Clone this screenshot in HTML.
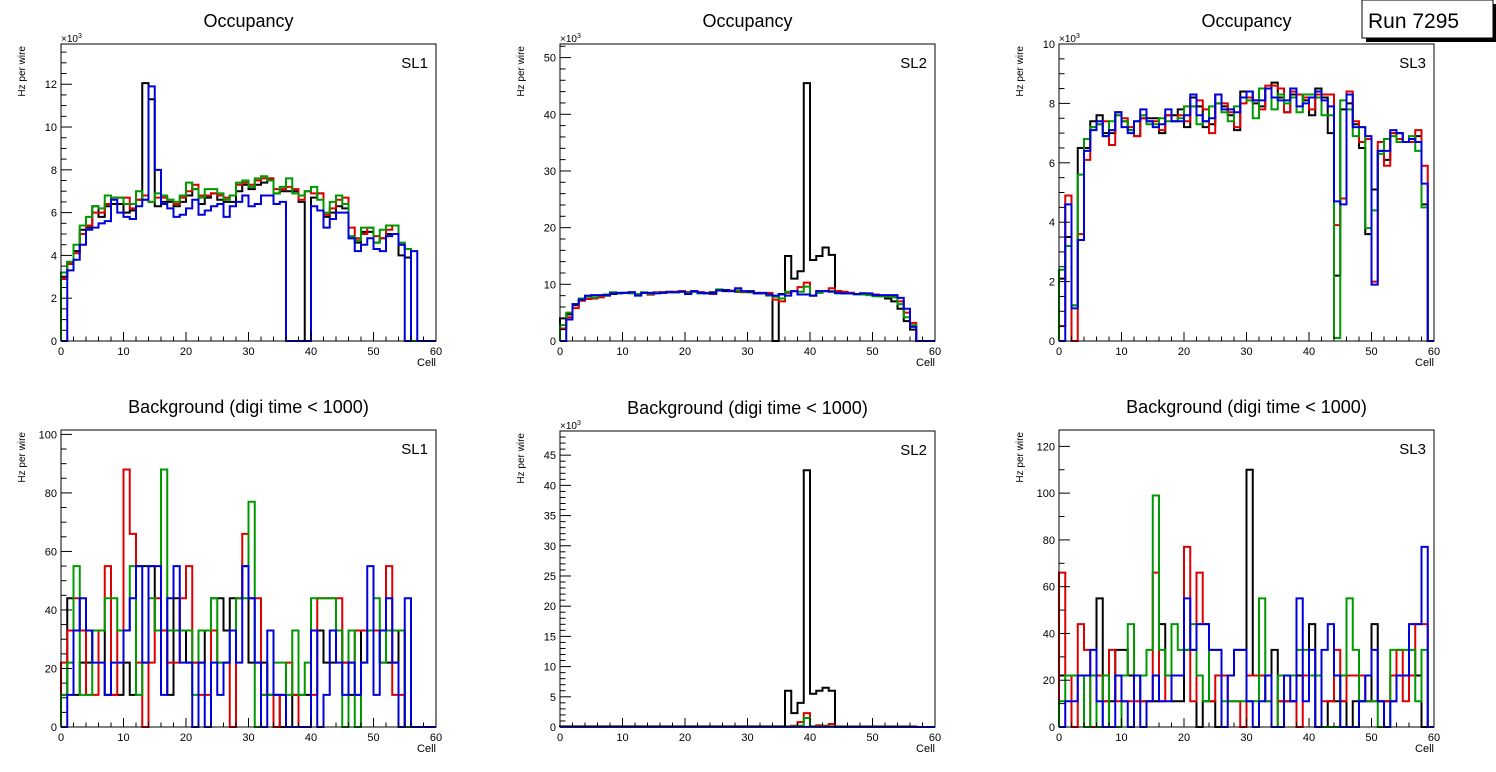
<!DOCTYPE html>
<html><head><meta charset="utf-8"><style>
html,body{margin:0;padding:0;background:#fff;}
svg{display:block;font-family:"Liberation Sans",sans-serif;}
</style></head><body>
<svg id="c" width="1496" height="772" viewBox="0 0 1496 772">
<g>
<rect x="1366" y="4" width="130" height="38" fill="#000"/>
<rect x="1362" y="0" width="131" height="38" fill="#fff" stroke="#000" stroke-width="1"/>
<text x="1368" y="28" font-size="21" fill="#000">Run 7295</text>
</g>
</svg>
<script>
// ---------- data (bin values, 60 cells each) ----------
var cells = [0,10,20,30,40,50,60];
var seriesColors = ["#000000","#dd0000","#009900","#0000dd"];
// SL1 occupancy (x10^3 Hz per wire)
var occSL1Black = [3.0,3.7,4.2,5.2,5.3,6.3,5.8,6.3,6.4,6.4,6.0,6.1,6.6,12.05,11.3,6.3,6.5,6.5,6.3,6.5,6.8,7.1,6.4,6.7,6.9,6.6,6.5,6.5,7.0,7.3,7.1,7.3,7.4,7.6,6.9,7.0,7.0,7.0,6.5,0,6.7,6.9,5.8,6.0,6.3,6.2,4.8,4.6,5.1,5.1,4.6,4.8,5.0,5.0,4.0,3.9,0,0,0,0];
var occSL1Red = [2.9,3.6,4.1,5.0,5.4,6.0,6.0,6.4,6.7,6.7,6.7,6.2,6.6,6.8,6.5,6.7,6.7,6.6,6.4,6.7,7.0,7.3,6.8,6.8,6.9,6.8,6.7,6.8,7.3,7.4,7.3,7.5,7.6,7.6,7.1,7.1,7.2,7.1,6.6,7.0,6.9,6.9,5.9,6.2,6.6,6.7,5.3,4.8,5.0,5.3,4.9,4.8,5.2,5.4,4.5,4.3,0,0,0,0];
var occSL1Green = [3.2,3.7,4.5,5.4,5.8,6.3,6.2,6.8,6.7,6.7,6.4,6.4,7.0,6.6,6.5,6.9,6.8,6.6,6.5,6.8,7.4,7.1,6.7,7.1,7.1,6.9,6.6,6.8,7.4,7.5,7.2,7.6,7.7,7.5,6.9,7.2,7.6,6.9,6.8,7.0,7.2,6.6,6.0,6.5,6.8,6.4,4.9,4.7,5.3,5.3,4.6,5.2,5.4,5.4,4.6,4.3,0,0,0,0];
var occSL1Blue = [0,3.3,3.8,4.5,5.2,5.3,5.5,5.6,6.6,6.0,5.8,5.7,6.3,6.6,11.9,8.0,6.4,6.2,5.8,5.9,6.2,6.6,5.9,6.1,6.3,6.4,5.8,6.3,6.5,6.8,6.3,6.4,6.8,6.8,6.4,6.5,0,0,0,0,6.3,6.1,5.3,5.7,6.0,6.0,4.8,4.2,4.5,4.8,4.3,4.2,4.9,5.0,4.5,0,4.2,0,0,0];
// SL2 occupancy
var occSL2Black = [4.0,4.7,6.3,7.2,7.4,7.6,7.8,8.0,8.3,8.4,8.5,8.6,8.3,8.5,8.2,8.5,8.6,8.7,8.6,8.8,8.6,8.7,8.6,8.5,8.6,8.9,8.8,8.9,8.7,8.7,8.8,8.5,8.4,8.3,0,8.3,15.0,11.0,12.3,45.5,14.3,15.0,16.5,15.2,8.8,8.6,8.5,8.3,8.4,8.3,8.0,7.9,7.5,7.0,5.7,3.5,2.0,0,0,0];
var occSL2Red = [2.2,4.2,5.8,7.1,7.4,7.5,7.7,8.1,8.4,8.5,8.5,8.5,8.2,8.5,8.3,8.6,8.6,8.6,8.7,8.8,8.5,8.8,8.6,8.4,8.3,8.9,9.0,8.9,8.8,8.6,8.6,8.4,8.4,8.5,7.3,7.0,8.5,8.8,9.5,10.3,8.0,8.8,8.8,9.3,8.8,8.7,8.5,8.3,8.4,8.3,8.2,8.0,7.8,7.8,7.0,5.0,3.2,0,0,0];
var occSL2Green = [2.8,5.0,6.5,7.5,7.8,7.7,8.0,8.2,8.6,8.4,8.5,8.4,8.3,8.6,8.4,8.5,8.5,8.6,8.6,8.7,8.4,8.7,8.4,8.4,8.4,9.1,9.0,8.8,8.9,8.7,8.6,8.4,8.4,8.0,7.8,7.5,8.7,8.8,8.7,9.6,8.0,8.5,8.8,8.8,8.4,8.4,8.4,8.2,8.2,8.1,7.9,7.9,7.8,7.7,6.5,4.2,2.8,0,0,0];
var occSL2Blue = [0,3.8,6.5,7.3,8.0,8.1,8.1,8.1,8.4,8.5,8.5,8.6,8.0,8.5,8.5,8.4,8.5,8.6,8.6,8.7,8.3,8.8,8.5,8.4,8.4,8.9,9.0,8.8,9.3,8.8,8.7,8.4,8.5,8.2,8.0,8.2,8.0,8.8,8.2,8.2,8.0,8.8,8.8,8.7,8.5,8.4,8.4,8.3,8.4,8.4,8.1,8.1,8.1,8.1,7.6,5.7,2.5,0,0,0];
// SL3 occupancy
var occSL3Black = [2.1,3.5,1.2,6.5,6.5,7.4,7.6,7.0,7.0,7.7,7.4,7.1,6.9,7.5,7.5,7.5,7.0,7.6,7.6,7.8,7.2,8.2,7.9,7.2,7.3,8.3,7.9,7.6,7.1,8.4,8.4,8.0,7.9,8.5,8.7,8.2,7.7,8.3,8.3,8.1,7.6,8.5,8.2,7.0,2.2,7.8,8.0,7.3,6.5,3.6,5.1,6.4,6.1,7.0,7.0,6.7,6.8,6.9,4.6,0];
var occSL3Red = [0.5,4.9,0,3.6,6.1,7.2,7.3,7.4,6.6,7.6,7.5,7.2,6.9,7.5,7.4,7.4,7.1,7.6,7.4,7.6,7.4,7.9,8.1,7.8,7.0,8.0,8.0,7.7,7.2,8.0,8.2,8.1,7.8,8.6,8.6,8.5,7.7,8.4,8.3,8.2,7.8,8.3,8.3,8.3,3.9,4.8,8.4,7.4,6.7,6.8,2.0,6.7,5.9,7.0,6.8,6.7,6.7,7.1,5.9,0];
var occSL3Green = [2.4,3.2,1.2,5.6,6.8,7.2,7.3,6.9,7.4,7.6,7.4,7.1,7.4,7.6,7.3,7.3,7.5,7.4,7.4,7.5,7.9,7.9,7.3,7.4,7.9,8.0,7.7,7.4,7.9,8.2,8.1,7.5,8.5,8.5,7.8,8.3,8.0,8.2,7.7,8.3,8.3,8.2,7.6,7.6,0.1,8.1,7.8,6.9,7.2,3.8,4.4,6.3,6.8,6.9,6.7,6.7,6.9,6.4,4.5,0];
var occSL3Blue = [0,4.6,1.1,3.4,6.4,7.1,7.4,6.9,7.1,7.7,7.2,7.0,7.4,7.8,7.4,7.2,7.3,7.8,7.4,7.4,7.6,8.3,7.6,7.4,7.5,8.3,7.8,7.8,7.7,8.2,8.4,8.1,8.1,8.5,8.2,8.1,8.1,8.5,7.9,8.0,8.2,8.4,8.1,7.9,4.7,4.6,8.3,7.2,7.2,6.9,1.9,6.4,6.4,7.1,7.0,6.7,6.8,6.7,5.3,0];
// SL1 background (Hz per wire)
var bkgSL1Black = [11,44,11,22,22,33,33,11,11,11,22,11,55,55,55,33,33,11,44,33,22,22,22,33,44,44,33,44,44,55,22,22,22,11,11,0,0,11,11,11,33,33,22,22,33,22,11,11,33,33,33,22,22,22,33,0,0,0,0,0];
var bkgSL1Red = [22,33,44,33,11,11,33,55,11,33,88,66,22,0,22,44,33,22,22,44,55,22,11,11,33,22,22,0,44,66,44,44,11,11,0,11,22,11,0,0,11,44,44,44,44,22,22,33,33,33,33,33,55,11,11,0,0,0,0,0];
var bkgSL1Green = [11,22,55,11,11,33,33,44,44,33,33,55,11,22,44,33,88,33,33,33,33,11,33,33,44,22,22,33,44,44,77,0,11,11,22,22,11,33,11,22,44,44,44,44,33,0,33,0,22,33,44,22,33,33,33,0,0,0,0,0];
var bkgSL1Blue = [0,11,33,44,33,22,22,11,22,22,33,44,55,22,55,55,11,44,55,22,22,0,22,0,22,11,22,33,22,55,44,22,0,33,11,11,0,0,0,0,33,0,11,33,22,11,22,11,22,55,11,33,44,22,0,44,0,0,0,0];
// SL2 background (x10^3)
var bkgSL2Black = [0.1,0.1,0.1,0.1,0.1,0.1,0.1,0.1,0.1,0.1,0.1,0.1,0.1,0.1,0.1,0.1,0.1,0.1,0.1,0.1,0.1,0.1,0.1,0.1,0.1,0.1,0.1,0.1,0.1,0.1,0.1,0.1,0.1,0.1,0.1,0.1,6.0,2.3,4.0,42.5,5.5,6.0,6.5,6.0,0.05,0.05,0.05,0.05,0.05,0.05,0.05,0.05,0.05,0.05,0.05,0.05,0.05,0,0,0];
var bkgSL2Red = [0.1,0.1,0.1,0.1,0.1,0.1,0.1,0.1,0.1,0.1,0.1,0.1,0.1,0.1,0.1,0.1,0.1,0.1,0.1,0.1,0.1,0.1,0.1,0.1,0.1,0.1,0.1,0.1,0.1,0.1,0.1,0.1,0.1,0.1,0.1,0.1,0.1,0.2,0.8,2.3,0.1,0.3,0.2,0.5,0.1,0.1,0.1,0.1,0.1,0.1,0.1,0.1,0.1,0.1,0.1,0.1,0.1,0,0,0];
var bkgSL2Green = [0.05,0.05,0.05,0.05,0.05,0.05,0.05,0.05,0.05,0.05,0.05,0.05,0.05,0.05,0.05,0.05,0.05,0.05,0.05,0.05,0.05,0.05,0.05,0.05,0.05,0.05,0.05,0.05,0.05,0.05,0.05,0.05,0.05,0.05,0.05,0.05,0.05,0.1,0.2,1.5,0.1,0.1,0.1,0.1,0.05,0.05,0.05,0.05,0.05,0.05,0.05,0.05,0.05,0.05,0.05,0.05,0.05,0,0,0];
var bkgSL2Blue = [0.03,0.03,0.03,0.03,0.03,0.03,0.03,0.03,0.03,0.03,0.03,0.03,0.03,0.03,0.03,0.03,0.03,0.03,0.03,0.03,0.03,0.03,0.03,0.03,0.03,0.03,0.03,0.03,0.03,0.03,0.03,0.03,0.03,0.03,0.03,0.03,0.03,0.03,0.03,0.03,0.03,0.03,0.03,0.03,0.03,0.03,0.03,0.03,0.03,0.03,0.03,0.03,0.03,0.03,0.03,0.03,0.03,0,0,0];
// SL3 background
var bkgSL3Black = [22,22,22,22,0,0,55,11,11,33,33,22,22,11,11,11,44,22,11,11,33,33,0,11,11,0,22,22,33,33,110,22,22,22,33,11,11,11,22,22,44,0,0,11,11,11,0,11,11,11,44,11,11,11,22,22,22,22,0,0];
var bkgSL3Red = [66,22,0,44,33,0,22,11,33,11,11,11,11,11,11,66,11,22,22,22,77,11,66,44,11,22,22,11,11,0,22,22,22,11,0,11,11,11,0,22,22,22,11,11,33,11,22,22,22,11,11,11,11,22,33,11,22,44,44,0];
var bkgSL3Green = [11,22,22,22,0,22,0,22,0,0,22,44,22,22,33,99,33,22,44,33,33,44,22,11,33,33,11,11,11,11,11,11,55,11,0,22,22,22,33,33,22,22,0,0,0,22,55,33,11,11,11,0,0,33,33,33,33,11,33,0];
var bkgSL3Blue = [0,11,11,22,22,33,11,0,0,22,11,0,22,0,11,22,11,11,22,22,55,33,44,44,33,33,0,22,33,33,11,0,11,22,0,0,22,11,55,11,33,0,33,44,22,0,0,0,11,22,33,11,0,11,22,22,44,44,77,0];

// ---------- layout ----------
var panels = [
 {name:"occupancy-sl1",title:"Occupancy",sl:"SL1",x0:61,x1:436,y0:44,y1:341,ymax:13.88,maj:2,nmin:4,exp:true,data:[occSL1Black,occSL1Red,occSL1Green,occSL1Blue]},
 {name:"occupancy-sl2",title:"Occupancy",sl:"SL2",x0:560,x1:935,y0:44,y1:341,ymax:52.4,maj:10,nmin:5,exp:true,data:[occSL2Black,occSL2Red,occSL2Green,occSL2Blue]},
 {name:"occupancy-sl3",title:"Occupancy",sl:"SL3",x0:1059,x1:1434,y0:44,y1:341,ymax:10.0,maj:2,nmin:4,exp:true,data:[occSL3Black,occSL3Red,occSL3Green,occSL3Blue]},
 {name:"background-sl1",title:"Background (digi time < 1000)",sl:"SL1",x0:61,x1:436,y0:430,y1:727,ymax:101.5,maj:20,nmin:4,exp:false,data:[bkgSL1Black,bkgSL1Red,bkgSL1Green,bkgSL1Blue]},
 {name:"background-sl2",title:"Background (digi time < 1000)",sl:"SL2",x0:560,x1:935,y0:431,y1:727,ymax:49,maj:5,nmin:5,exp:true,data:[bkgSL2Black,bkgSL2Red,bkgSL2Green,bkgSL2Blue]},
 {name:"background-sl3",title:"Background (digi time < 1000)",sl:"SL3",x0:1059,x1:1434,y0:430,y1:727,ymax:127,maj:20,nmin:2,exp:false,data:[bkgSL3Black,bkgSL3Red,bkgSL3Green,bkgSL3Blue]}
];
var seriesNames=["black","red","green","blue"];
var NS="http://www.w3.org/2000/svg";
var svg=document.getElementById("c");
function mk(tag,attrs,parent){var e=document.createElementNS(NS,tag);for(var k in attrs)e.setAttribute(k,attrs[k]);parent.appendChild(e);return e;}

panels.forEach(function(p){
  var g=mk("g",{},svg);
  
  
  function xs(v){return p.x0+(v-0)/60*(p.x1-p.x0);}
  function ys(v){return p.y1-v/p.ymax*(p.y1-p.y0);}
  var cx=(p.x0+p.x1)/2;
  var t=mk("text",{x:cx,y:p.y0-17,"font-size":"18","text-anchor":"middle",fill:"#000"},g);
  t.textContent=p.title;
  
  
  // series
  p.data.forEach(function(arr,si){
    var d="M"+xs(0)+","+ys(0);
    for(var i=0;i<arr.length;i++){var v=Math.min(arr[i],p.ymax);d+=" L"+xs(i)+","+ys(v)+" L"+xs(i+1)+","+ys(v);}
    d+=" L"+xs(60)+","+ys(0);
    var path=mk("path",{d:d,fill:"none",stroke:seriesColors[si],"stroke-width":"2","stroke-linejoin":"miter"},g);
    
    
  });
  // frame
  var fr=mk("rect",{x:p.x0,y:p.y0,width:p.x1-p.x0,height:p.y1-p.y0,fill:"none",stroke:"#000","stroke-width":"1"},g);
  
  
  // x ticks
  for(var v=0;v<=60;v+=2){
    var major=(v%10===0);
    mk("line",{x1:xs(v),x2:xs(v),y1:p.y1,y2:p.y1-(major?9:4.5),stroke:"#000","stroke-width":"1"},g);
  }
  cells.forEach(function(v){
    var tl=mk("text",{x:xs(v),y:p.y1+14,"font-size":"11","text-anchor":"middle",fill:"#000"},g);
    tl.textContent=v;
    
    
  });
  var xl=mk("text",{x:p.x1,y:p.y1+25,"font-size":"11","text-anchor":"end",fill:"#000"},g);
  xl.textContent="Cell";
  
  
  // y ticks
  var step=p.maj/p.nmin;
  for(var k=0;k*step<=p.ymax+1e-9;k++){
    var yv=k*step, isMaj=(k%p.nmin===0);
    mk("line",{x1:p.x0,x2:p.x0+(isMaj?11:5.5),y1:ys(yv),y2:ys(yv),stroke:"#000","stroke-width":"1"},g);
    if(isMaj){
      var yl=mk("text",{x:p.x0-4,y:ys(yv)+4,"font-size":"11","text-anchor":"end",fill:"#000"},g);
      yl.textContent=Math.round(yv);
      
      
    }
  }
  var ya=mk("text",{x:0,y:0,"font-size":"10","text-anchor":"end",fill:"#000",transform:"translate("+(p.x0-36)+","+(p.y0+2)+") rotate(-90)"},g);
  ya.textContent="Hz per wire";
  
  
  if(p.exp){
    var ex=mk("text",{x:p.x0,y:p.y0-2,"font-size":"10",fill:"#000"},g);
    ex.innerHTML='×10<tspan font-size="7" dy="-4">3</tspan>';
    
    
  }
  var sl=mk("text",{x:p.x1-8,y:p.y0+24,"font-size":"15","text-anchor":"end",fill:"#000"},g);
  sl.textContent=p.sl;
  
  
});
</script>
</body></html>
